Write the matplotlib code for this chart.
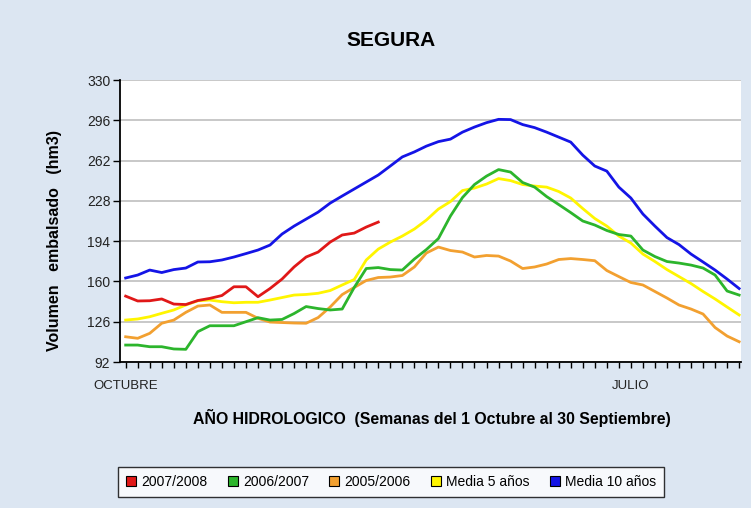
import numpy as np
import matplotlib
matplotlib.use("Agg")
import matplotlib.pyplot as plt
from matplotlib.lines import Line2D

plt.rcParams['font.family'] = ['Liberation Sans', 'DejaVu Sans']

# semanas del año hidrologico (1 octubre - 30 septiembre)
semanas = np.arange(52)

v2007_2008 = [147.6, 143.5, 143.7, 145.2, 140.9, 140.5, 143.9, 145.7, 148.1, 155.5,
              155.5, 147.1, 154.0, 162.0, 172.2, 180.6, 184.8, 193.2, 199.2, 200.8,
              205.9, 210.1]

v2006_2007 = [106.3, 106.3, 104.9, 104.9, 103.0, 102.7, 117.6, 122.6, 122.6, 122.6,
              126.0, 129.4, 127.4, 127.9, 132.9, 138.8, 137.1, 135.9, 136.7, 154.9,
              170.9, 171.7, 170.0, 169.6, 178.9, 186.9, 196.2, 215.2, 230.8, 241.8,
              248.9, 254.4, 252.3, 243.5, 239.6, 231.6, 224.9, 218.1, 211.0, 207.6,
              203.0, 199.6, 198.3, 186.5, 181.0, 176.8, 175.5, 173.8, 171.3, 165.4,
              151.9, 148.5]

v2005_2006 = [113.3, 112.0, 116.2, 124.7, 127.4, 133.9, 139.2, 140.1, 133.9, 133.9,
              133.9, 128.9, 125.7, 125.3, 124.9, 124.7, 129.5, 138.4, 148.9, 154.9,
              160.8, 163.3, 163.7, 165.0, 172.2, 184.0, 189.0, 186.1, 184.8, 180.6,
              181.9, 181.4, 177.2, 170.9, 172.2, 174.7, 178.5, 179.3, 178.5, 177.5,
              169.2, 164.1, 159.1, 157.0, 151.5, 146.0, 140.1, 136.7, 132.5, 121.1,
              113.9, 109.1]

media5 = [127.4, 128.3, 130.2, 133.1, 135.9, 140.1, 143.7, 144.3, 142.9, 142.0,
          142.4, 142.4, 144.3, 146.4, 148.5, 149.0, 150.0, 152.3, 157.0, 161.6,
          178.1, 187.3, 193.2, 198.3, 204.2, 211.8, 221.1, 227.4, 236.7, 238.8,
          242.2, 246.8, 245.1, 241.8, 240.5, 239.6, 235.9, 230.4, 221.5, 213.1,
          206.7, 198.3, 192.4, 183.1, 176.8, 170.0, 164.1, 158.2, 151.5, 145.2,
          138.4, 131.7]

media10 = [162.9, 165.4, 169.6, 167.5, 170.0, 171.3, 176.4, 176.6, 178.1, 180.6,
           183.5, 186.5, 190.7, 200.0, 206.7, 212.6, 218.5, 226.1, 232.1, 238.0,
           243.9, 249.8, 257.4, 265.1, 269.3, 274.2, 278.0, 280.1, 286.0, 290.3,
           294.0, 296.8, 296.6, 292.4, 289.8, 286.0, 281.8, 277.6, 266.6, 257.4,
           253.1, 239.6, 230.4, 216.9, 206.7, 197.0, 191.1, 183.1, 176.4, 169.6,
           162.0, 154.0]

series = [("2007/2008", v2007_2008, '#E01818'),
          ("2006/2007", v2006_2007, '#2CB52C'),
          ("2005/2006", v2005_2006, '#F2A030'),
          ("Media 5 años", media5, '#FFF500'),
          ("Media 10 años", media10, '#1414E6')]

yticks = [92, 126, 160, 194, 228, 262, 296, 330]
xlabels = {0: 'OCTUBRE', 42: 'JULIO'}

fig = plt.figure(figsize=(7.51, 5.08), dpi=100)
fig.patch.set_facecolor('#DCE6F2')
ax = fig.add_axes([0.1598, 0.2874, 0.8268, 0.5551])
ax.set_facecolor('white')

for i, (name, vals, col) in enumerate(reversed(series)):
    ax.plot(semanas[:len(vals)], vals, color=col, lw=2.0, zorder=3 + i,
            solid_joinstyle='round')

ax.set_ylim(92, 330)
ax.set_yticks(yticks)
ax.yaxis.grid(True, color='#C4C4C4', lw=1.3)
ax.set_axisbelow(True)
ax.set_xlim(-0.47, 51.15)
ax.set_xticks(semanas)
ax.set_xticklabels([xlabels.get(s, '') for s in semanas])

for s in ['top', 'right']:
    ax.spines[s].set_visible(False)
for s in ['left', 'bottom']:
    ax.spines[s].set_color('black')
    ax.spines[s].set_linewidth(1.3)

ax.tick_params(axis='y', length=5, width=1, labelsize=10, colors='black',
               labelcolor='#222222', pad=2)
ax.tick_params(axis='x', length=4, width=1, labelsize=9.5, labelcolor='#222222', pad=9)

fig.text(0.0732, 0.5256, "Volumen   embalsado   (hm3)", fontsize=11.5,
         fontweight='bold', rotation=90, ha='center', va='center')
fig.text(0.5213, 0.921, "SEGURA", fontsize=15, fontweight='bold',
         ha='center', va='center')
fig.text(0.575, 0.177, "AÑO HIDROLOGICO  (Semanas del 1 Octubre al 30 Septiembre)",
         fontsize=11.4, fontweight='bold', ha='center', va='center')

handles = [Line2D([], [], ls='none', marker='s', markersize=7.5, markerfacecolor=c,
                  markeredgecolor='black', markeredgewidth=0.8)
           for _, _, c in series]
leg = fig.legend(handles, [n for n, _, _ in series], loc='center',
                 bbox_to_anchor=(0.5206, 0.0512), ncol=5, fontsize=10,
                 frameon=True, fancybox=False, handlelength=0.8,
                 handletextpad=0.35, columnspacing=1.4, borderpad=0.55)
leg.get_frame().set_edgecolor('black')
leg.get_frame().set_linewidth(1.0)
leg.get_frame().set_facecolor('white')

fig.savefig('out.png', dpi=100, facecolor=fig.get_facecolor())
